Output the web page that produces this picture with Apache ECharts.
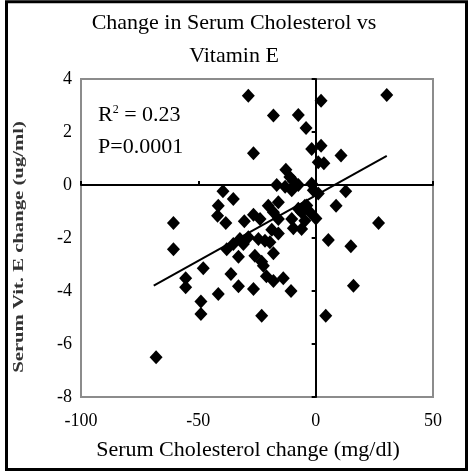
<!DOCTYPE html>
<html>
<head>
<meta charset="utf-8">
<script src="https://cdn.jsdelivr.net/npm/echarts@6/dist/echarts.min.js"></script>
<style>html,body{margin:0;padding:0;background:#fff;}#c{width:468px;height:472px;}</style>
</head>
<body>
<div id="c"></div>
<script>
// Serum cholesterol change (mg/dl)
var cholChange = [-68, -60.6, -60.6, -55.4, -55.4, -48.9, -48.9, -47.9, -41.5, -39.5,
  -35.1, -41.5, -41.8, -38.3, -36.1, -32.9, -26.5, -23, -28.7, -26.5,
  -30.4, -26.5, 2.3, 30.3, -18, -7.4, -4.1, -1.7, 2.3, 1.1,
  3.5, 10.8, -12.7, -11, -9.5, -7.4, -16.6, -13, -10.2, -1.7,
  -1, 1.1, 12.8, 8.7, 0.1, 26.8, 5.4, 15, 16.1, 4.3,
  -10.5, -13.8, -18, -21, -22.3, -23, -25.9, -18, -32.9, -37.9,
  -35.1, -30.8, -32.3, -28.7, -24.4, -21.6, -19.5, -18.7, -15.9, -9.5,
  -10.2, -6, -4.6, -20.2, -15.9, -18, -23.7, -15.9, -3.8, -2.4,
  -4.6, -6, -7.4];
// Serum vitamin E change (ug/ml)
var vitEChange = [-6.5, -1.43, -2.42, -3.52, -3.86, -4.4, -4.87, -3.14, -4.11, -0.24,
  -0.53, -0.78, -1.16, -1.43, -3.36, -3.82, -3.92, -4.93, 3.37, 1.2,
  -1.37, -1.12, 3.18, 3.4, 2.62, 2.64, 2.15, 1.36, 1.48, 0.86,
  0.82, 1.11, 0.58, 0.3, 0.15, 0, 0, -0.07, -0.2, 0.05,
  -0.2, -0.32, -0.24, -0.78, -1.26, -1.43, -2.08, -2.31, -3.8, -4.93,
  -4.0, -3.52, -3.62, -3.44, -3.05, -2.9, -2.67, -2.58, -2.71, -2.42,
  -2.23, -2.23, -2.04, -1.97, -2.04, -2.1, -2.16, -1.69, -1.83, -1.63,
  -1.28, -1.03, -0.78, -0.78, -0.65, -1.03, -1.28, -1.28, -0.77, -1.03,
  -1.35, -1.66, -0.9];
// Fitted trend line end points
var trendX = [-69, 30.3];
var trendY = [-3.8, 1.1];
// Axis ticks
var xTicks = [-100, -50, 0, 50];
var yTicks = [-8, -6, -4, -2, 0, 2, 4];

var points = cholChange.map(function (x, i) { return [x, vitEChange[i]]; });
var trend = trendX.map(function (x, i) { return [x, trendY[i]]; });

var serif = 'Liberation Serif, Times New Roman, serif';
var chart = echarts.init(document.getElementById('c'), null, {renderer: 'canvas'});
var xInt = xTicks[1] - xTicks[0];
var yInt = yTicks[1] - yTicks[0];

chart.setOption({
  animation: false,
  backgroundColor: '#fff',
  title: {
    text: 'Change in Serum Cholesterol vs\nVitamin E',
    left: 'center',
    top: 2,
    textStyle: {fontFamily: serif, fontSize: 22, fontWeight: 'normal', color: '#000', lineHeight: 33, align: 'center'}
  },
  grid: {
    left: 81, top: 79, right: 35, bottom: 75,
    show: true, borderColor: '#8c8c8c', borderWidth: 2, backgroundColor: 'transparent'
  },
  xAxis: [{
    type: 'value', min: xTicks[0], max: xTicks[xTicks.length - 1], interval: xInt,
    position: 'bottom',
    axisLine: {show: false, onZero: false},
    axisTick: {show: false},
    splitLine: {show: false},
    axisLabel: {margin: 15, fontFamily: serif, fontSize: 18, color: '#000'}
  }, {
    type: 'value', min: xTicks[0], max: xTicks[xTicks.length - 1], interval: xInt,
    position: 'bottom',
    axisLine: {show: true, onZero: true, onZeroAxisIndex: 0, lineStyle: {color: '#000', width: 2}},
    axisTick: {show: true, inside: true, length: 4, lineStyle: {color: '#000', width: 2}},
    splitLine: {show: false},
    axisLabel: {show: false}
  }],
  yAxis: [{
    type: 'value', min: yTicks[0], max: yTicks[yTicks.length - 1], interval: yInt,
    position: 'left',
    axisLine: {show: false, onZero: false},
    axisTick: {show: false},
    splitLine: {show: false},
    axisLabel: {margin: 9, fontFamily: serif, fontSize: 18, color: '#000'}
  }, {
    type: 'value', min: yTicks[0], max: yTicks[yTicks.length - 1], interval: yInt,
    position: 'left',
    axisLine: {show: true, onZero: true, onZeroAxisIndex: 0, lineStyle: {color: '#000', width: 2}},
    axisTick: {show: true, inside: false, length: 4, lineStyle: {color: '#000', width: 2}},
    splitLine: {show: false},
    axisLabel: {show: false}
  }],
  series: [{
    type: 'scatter',
    xAxisIndex: 0, yAxisIndex: 0,
    data: points,
    symbol: 'diamond',
    symbolSize: [13, 14],
    itemStyle: {color: '#000', opacity: 1},
    z: 3
  }, {
    type: 'line',
    xAxisIndex: 0, yAxisIndex: 0,
    data: trend,
    showSymbol: false,
    symbol: 'none',
    lineStyle: {color: '#000', width: 2},
    z: 4
  }],
  graphic: [{
    type: 'rect',
    shape: {x: 6.5, y: 1.7, width: 460, height: 467.8},
    style: {fill: 'none', stroke: '#000', lineWidth: 3},
    silent: true
  }, {
    type: 'text',
    left: 98, top: 104,
    style: {
      text: '{b|R}{s|2}{b| = 0.23}',
      rich: {
        b: {fontFamily: serif, fontSize: 22, fill: '#000', verticalAlign: 'bottom'},
        s: {fontFamily: serif, fontSize: 12, fill: '#000', verticalAlign: 'top', padding: [0, 0, 10, 0]}
      }
    }
  }, {
    type: 'text',
    left: 98, top: 136,
    style: {text: 'P=0.0001', fontFamily: serif, fontSize: 22, fill: '#000'}
  }, {
    type: 'text',
    x: 248, y: 450,
    style: {text: 'Serum Cholesterol change (mg/dl)', fontFamily: serif, fontSize: 22, fill: '#000',
      align: 'center', verticalAlign: 'middle'}
  }, {
    type: 'text',
    x: 19, y: 247,
    rotation: Math.PI / 2,
    scaleX: 1.38,
    style: {text: 'Serum Vit. E change (ug/ml)', fontFamily: serif, fontSize: 15, fontWeight: 'bold',
      fill: '#333', align: 'center', verticalAlign: 'middle'}
  }]
});
</script>
</body>
</html>
